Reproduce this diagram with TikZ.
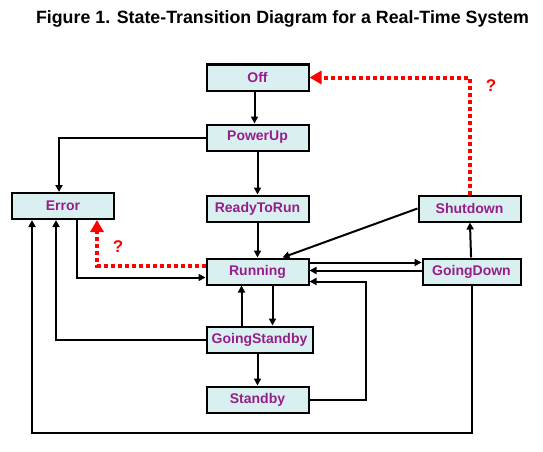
\documentclass[tikz,border=0pt]{standalone}
\usepackage{fontspec}
\setmainfont{Liberation Sans}
\usetikzlibrary{arrows.meta, positioning}
\definecolor{statefill}{RGB}{218,240,240}
\definecolor{statetext}{RGB}{150,30,140}

\begin{document}
\begin{tikzpicture}[
    x=1pt, y=-1pt,
    state/.style={rectangle, draw, line width=2pt, fill=statefill, text=statetext, minimum height=26pt, minimum width=102pt, inner sep=0pt, font=\fontsize{14}{16}\selectfont\bfseries},
    arrow/.style={-{Triangle[length=7pt, width=7pt]}, line width=2pt},
    unsure/.style={-{Triangle[length=12pt, width=13pt]}, red, line width=4pt, dash pattern=on 4pt off 3pt},
    qmark/.style={text=red, font=\fontsize{17}{19}\selectfont\bfseries},
    node distance=32pt
]
    \useasboundingbox (0,0) rectangle (543,452);
    \node[font=\fontsize{17.8}{20}\selectfont\bfseries] (title) at (282.5,19) {Figure 1. State-Transition Diagram for a Real-Time System};

    \node[state] (off) at (257.5,77.5) {Off};
    \node[state, below=32pt of off] (powerup) {PowerUp};
    \node[state, below=43pt of powerup] (ready) {ReadyToRun};
    \node[state, below=35pt of ready] (running) {Running};
    \node[state, below=40pt of running, minimum width=106pt, xshift=2pt] (gostandby) {GoingStandby};
    \node[state, below=32pt of gostandby, xshift=-2pt] (standby) {Standby};
    \node[state] (error) at (63,206) {Error};
    \node[state, right=108pt of ready] (shutdown) {Shutdown};
    \node[state, right=112pt of running, minimum width=98pt] (goingdown) {GoingDown};
    \coordinate (floor) at (0,433);

    \draw[arrow] ([xshift=-3pt]off.south) -- ([xshift=-3pt]powerup.north);
    \draw[arrow] (powerup) -- (ready);
    \draw[arrow] (ready) -- (running);
    \draw[arrow] (powerup.west) -| ([xshift=-4pt]error.north);
    \draw[arrow] ([xshift=14pt]error.south) |- ([yshift=-6pt]running.west);
    \draw[arrow] (gostandby.west) -| ([xshift=-7pt]error.south);
    \draw[arrow] (goingdown.south) -- (goingdown.south |- floor) -| ([xshift=-31pt]error.south);
    \draw[arrow] ([yshift=9pt]running.east) -- ([yshift=9pt]goingdown.west);
    \draw[arrow] ([yshift=1pt]goingdown.west) -- ([yshift=1pt]running.east);
    \draw[arrow] (standby.east) -- ++(56,0) |- ([yshift=-10pt]running.east);
    \draw[arrow] (goingdown) -- (shutdown);
    \draw[arrow] (shutdown.west) -- ([xshift=25pt]running.north);
    \draw[arrow] ([xshift=15pt]running.south) -- ([xshift=13pt]gostandby.north);
    \draw[arrow] ([xshift=-18pt]gostandby.north) -- ([xshift=-16pt]running.south);
    \draw[arrow] ([xshift=-2pt]gostandby.south) -- (standby.north);

    % transitions still in question
    \draw[unsure] (shutdown.north) |- node[qmark, pos=0.5, right=11pt, yshift=-8pt] {?} (off.east);
    \draw[unsure] ([yshift=6pt]running.west) -| node[qmark, pos=0.5, xshift=21pt, yshift=19pt] {?} ([xshift=34pt]error.south);
\end{tikzpicture}
\end{document}
